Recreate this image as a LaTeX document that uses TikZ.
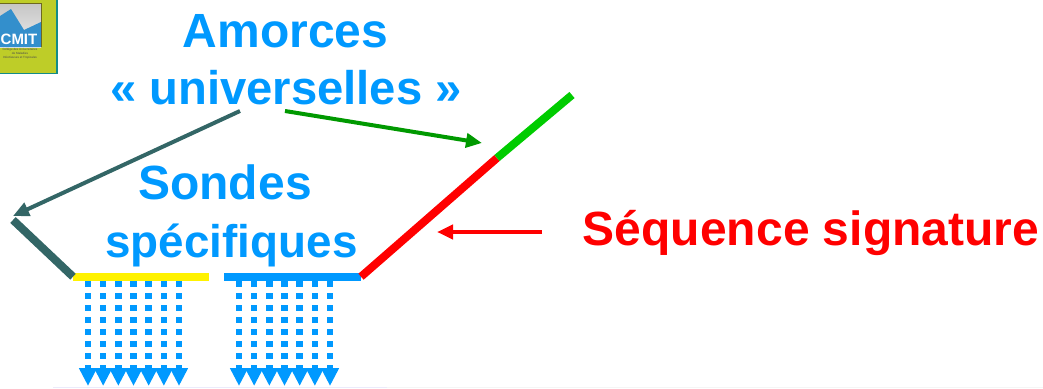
\documentclass[tikz,border=0pt]{standalone}
\usepackage{fontspec}
\setmainfont{Liberation Sans}
\usetikzlibrary{arrows.meta}
\definecolor{cblue}{RGB}{0,153,255}
\definecolor{cteal}{RGB}{51,102,102}
\definecolor{cgreen}{RGB}{0,153,0}
\definecolor{lgreen}{RGB}{0,204,0}
\definecolor{logogreen}{RGB}{190,205,40}
\definecolor{logoteal}{RGB}{20,140,135}
\tikzset{
  lab/.style={font=\fontsize{48}{48}\bfseries\selectfont, text=cblue, inner sep=0pt, anchor=base},
  bar/.style={line width=8pt},
  pointer/.style={line width=4pt, -{Triangle[length=16pt,width=14pt]}},
  dots/.style={cblue, line width=6.5pt, dash pattern=on 6pt off 6pt, -{Triangle[length=18pt,width=17pt]}, shorten >=0pt},
}
\begin{document}
\begin{tikzpicture}[x=1pt,y=-1pt]
\useasboundingbox (0,0) rectangle (1043,388);
% faint lines along the bottom edge
\fill[black!4] (387,386.8) rectangle (1043,388);
\fill[black!18!blue!8!white] (53,386.8) rectangle (387,388);
% logo
\fill[logogreen,draw=logoteal,line width=1.5pt] (-3,-3) rectangle (57,73.5);
\begin{scope}
\clip (0,3) rectangle (41,47);
\shade[top color=gray!45, bottom color=white!85!gray] (0,3) rectangle (41,47);
\fill[blue!40!cyan!60!gray] (0,16) -- (11,9) -- (24,30) -- (41,22) -- (41,47) -- (0,47) -- cycle;
\end{scope}
\draw[olive!70!black,line width=0.7pt] (0,3) -- (41,3) -- (41,47);
\node[font=\bfseries\fontsize{15}{15}\selectfont,text=white,inner sep=0pt] (logotext) at (19,39) {CMIT};
\node[font=\fontsize{3}{3.8}\selectfont,text=black!70,align=center,inner sep=0pt] (logosub) at (20,54) {Collège des Universitaires\\de Maladies\\Infectieuses et Tropicales};
% text
\node[lab] (t1) at (285.5,47) {Amorces};
\node[lab,font=\fontsize{47.2}{47.2}\bfseries\selectfont] (t2) at (286,104) {« universelles »};
\node[lab] (t3) at (225,199) {Sondes};
\node[lab,font=\fontsize{45.8}{45.8}\bfseries\selectfont] (t4) at (231.5,257) {spécifiques};
\node[lab,text=red] (t5) at (811,245) {Séquence signature};
% bars
\coordinate (y1) at (73,276.7); \coordinate (y2) at (209,276.7);
\coordinate (b1) at (224,276.7); \coordinate (b2) at (361,276.7);
\coordinate (tl) at (13,220); \coordinate (rm) at (497,158); \coordinate (rt) at (572,95);
\draw[bar,yellow] (y1) -- (y2);
\draw[bar,cblue] (b1) -- (b2);
\draw[bar,cteal] (y1) -- (tl);
\draw[bar,red] (b2) -- (rm);
\draw[bar,lgreen] (rm) -- (rt);
% pointers
\coordinate (p1a) at (240,111); \coordinate (p1b) at (13,216);
\coordinate (p2a) at (285,111); \coordinate (p2b) at (482,143);
\coordinate (p3a) at (542,232); \coordinate (p3b) at (437,232);
\draw[pointer,cteal] (p1a) -- (p1b);
\draw[pointer,cgreen] (p2a) -- (p2b);
\draw[pointer,red] (p3a) -- (p3b);
% dotted arrows
\foreach \i in {0,...,6}{
  \coordinate (a\i) at ({88+15.17*\i},281);
  \coordinate (c\i) at ({88+15.17*\i},386);
  \coordinate (d\i) at ({239+15.17*\i},281);
  \coordinate (e\i) at ({239+15.17*\i},386);
  \draw[dots] (a\i) -- (c\i);
  \draw[dots] (d\i) -- (e\i);
}
\end{tikzpicture}
\end{document}
